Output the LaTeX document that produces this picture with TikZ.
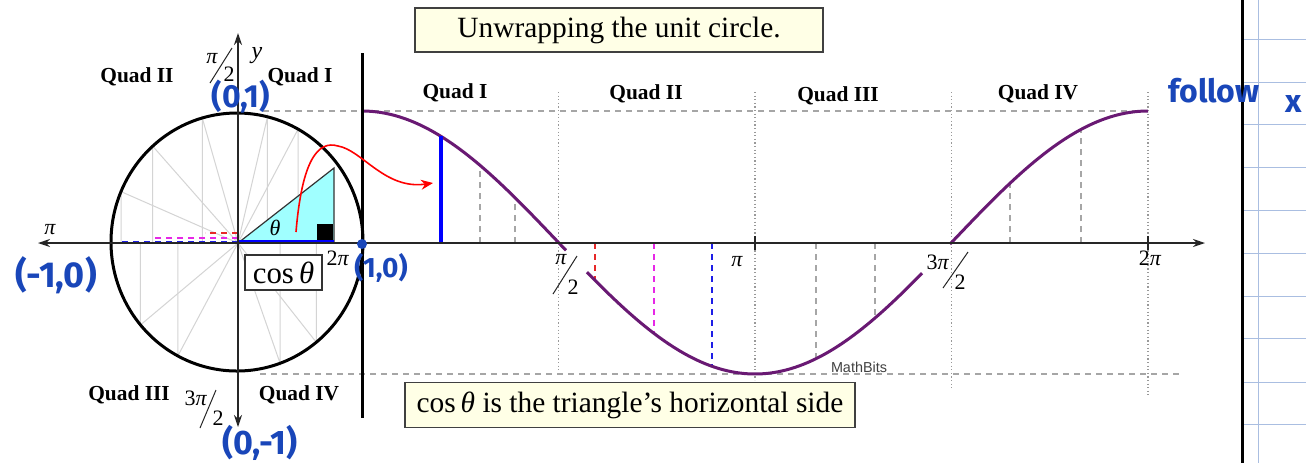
\documentclass[tikz,border=0pt]{standalone}
\usepackage{fontspec}
\setmainfont{Liberation Serif}
\newfontfamily\handfont{Fira Sans}
\newfontfamily\mbsans{Liberation Sans}
\usetikzlibrary{arrows.meta}
\definecolor{curvepurple}{RGB}{105,25,115}
\definecolor{handblue}{RGB}{25,70,185}
\definecolor{boxyellow}{RGB}{255,255,230}
\definecolor{spokegray}{RGB}{212,212,212}
\definecolor{gridblue}{RGB}{170,190,225}
\definecolor{tricyan}{RGB}{160,255,255}
\definecolor{dashred}{RGB}{230,40,40}
\definecolor{dashmag}{RGB}{230,40,230}
\definecolor{dashblue}{RGB}{30,30,230}
\begin{document}
\begin{tikzpicture}[x=0.5pt,y=-0.5pt,
  quadlbl/.style={font=\fontsize{10.7}{12}\selectfont\bfseries, inner sep=0pt},
  smalllbl/.style={font=\fontsize{11}{12}\selectfont\itshape, inner sep=0pt},
  uplbl/.style={font=\fontsize{11}{12}\selectfont, inner sep=0pt},
  axisline/.style={line width=0.75pt, draw=black!85},
  spoke/.style={line width=0.5pt, draw=spokegray},
  guide/.style={line width=0.6pt, draw=gray!70, dash pattern=on 3pt off 2.5pt},
  dotguide/.style={line width=0.6pt, draw=gray!80, dash pattern=on 0.6pt off 1.2pt},
  cosline/.style={line width=1.5pt, draw=curvepurple},
  handwr/.style={font=\handfont\bfseries\fontsize{16}{18}\selectfont, text=handblue, inner sep=0pt},
  yellowbox/.style={draw=black!75, line width=0.8pt, fill=boxyellow, inner sep=0pt, font=\fontsize{14.7}{16}\selectfont},
  gridline/.style={line width=0.5pt, draw=gridblue},
  slash/.style={line width=0.5pt, draw=black!85},
]
\useasboundingbox (0,0) rectangle (1306,463);
\fill[white] (0,0) rectangle (1306,463);

% grid paper on the right
\foreach \gy in {39,82,124,167,210,253,296,338,382,424}
  \draw[gridline] (1244,\gy) -- (1306,\gy);
\draw[gridline] (1258,0) -- (1258,463);
\draw[line width=1.5pt, black] (1242,0) -- (1242,463);

% spokes in circle
\foreach \a in {61,76,106,132,157,220,242,290,309}
  \draw[spoke] (238,243) -- ({237+126*cos(\a)},{242-129*sin(\a)}) -- ({237+126*cos(\a)},243);

% triangle
\fill[tricyan] (238,243) -- (334,243) -- (334,168) -- cycle;
\draw[line width=0.6pt, black!80] (238,243) -- (334,168) -- (334,243);
\fill[black] (317,224) rectangle (333,241);

% guides
\draw[guide] (263,111) -- (362,111);
\draw[guide] (362,111) -- (1148,111);
\draw[guide] (260,374) -- (1180,374);
\foreach \xx/\yb in {558.5/370,755/380,951.5/388,1148/395}
  \draw[dotguide] (\xx,92) -- (\xx,\yb);
\foreach \xx in {480,515,816,875,1010,1081}
  \draw[guide] (\xx,243) -- (\xx,{242.5-131.5*cos((\xx-362)/786*360)});
\draw[guide, draw=dashred, line width=1pt] (595,243) -- (595,{242.5-131.5*cos((595-362)/786*360)});
\draw[guide, draw=dashmag, line width=1pt] (654,243) -- (654,{242.5-131.5*cos((654-362)/786*360)});
\draw[guide, draw=dashblue, line width=1pt] (712,243) -- (712,{242.5-131.5*cos((712-362)/786*360)});

% colored dashes on the circle's axis
\draw[guide, draw=dashred, line width=1pt] (238,233) -- (205,233);
\draw[guide, draw=dashmag, line width=1pt] (238,238) -- (153,238);
\draw[guide, draw=dashblue, line width=1pt] (238,242) -- (122,242);

% unit circle
\draw[line width=1.5pt, black] (237,242) ellipse [x radius=126, y radius=129];

% cosine curve
\draw[cosline] plot[domain=362:566, samples=60] (\x,{242.5-131.5*cos((\x-362)/786*360)});
\draw[cosline] plot[domain=587:922, samples=80] (\x,{242.5-131.5*cos((\x-362)/786*360)});
\draw[cosline] plot[domain=950:1148, samples=60] (\x,{242.5-131.5*cos((\x-362)/786*360)});

% blue cos segment
\draw[line width=2pt, blue] (441,243) -- (441,{242.5-131.5*cos((441-362)/786*360)});
\draw[line width=2.4pt, blue] (238,242) -- (334,242);

% axes
\draw[axisline, {Stealth[length=6pt,width=4pt]}-{Stealth[length=6pt,width=4pt]}] (38,243) -- (1205,243);
\draw[axisline, {Stealth[length=6pt,width=4pt]}-{Stealth[length=6pt,width=4pt]}] (238,427) -- (238,33);
\draw[axisline] (755,236) -- (755,250);
\draw[axisline] (1148,236) -- (1148,250);
\draw[line width=1.5pt, black] (362,53) -- (362,418);

% red arrow
\coordinate (arrstart) at (296,232);
\coordinate (arrpeak) at (338,146);
\coordinate (arrend) at (433,183);
\draw[line width=0.8pt, red, -{Stealth[length=6pt,width=5pt]}] (arrstart) .. controls (302,160) and (318,140) .. (arrpeak) .. controls (362,150) and (385,190) .. (arrend);

% boxes
\node[yellowbox, minimum width=204pt, minimum height=22pt] (title) at (619,30) {Unwrapping the unit circle.};
\node[yellowbox, minimum width=225pt, minimum height=22.5pt] (caption) at (630,405) {cos\,\textit{θ} is the triangle's horizontal side};
\node[draw=black!80, line width=0.6pt, fill=white, inner sep=0pt, minimum width=38.5pt, minimum height=17.5pt, font=\fontsize{15.4}{17}\selectfont] (cosbox) at (283.5,272.5) {cos\,\textit{θ}};

% quadrant labels
\node[quadlbl] (lq2) at (137,77) {Quad II};
\node[quadlbl] (lq1) at (300,77) {Quad I};
\node[quadlbl] (lq3) at (129,395) {Quad III};
\node[quadlbl] (lq4) at (299,395) {Quad IV};
\node[quadlbl] (gq1) at (455,93) {Quad I};
\node[quadlbl] (gq2) at (646,94) {Quad II};
\node[quadlbl] (gq3) at (838,96) {Quad III};
\node[quadlbl] (gq4) at (1038,94) {Quad IV};

% angle labels
\node[smalllbl] (theta) at (275,228) {θ};
\node[smalllbl, font=\fontsize{12}{13}\selectfont\itshape] (ylbl) at (257,56) {y};
\node[smalllbl] (pileft) at (50,230) {π};
\node[uplbl] (twopileft) at (338,258) {2\textit{π}};
% pi/2 top
\node[smalllbl] (tpnum) at (212,59) {π};
\draw[slash] (210,83) -- (232,48);
\node[uplbl] (tpden) at (229,74) {2};
% 3pi/2 bottom
\node[uplbl] (bpnum) at (196,398) {3\textit{π}};
\draw[slash] (200,428) -- (216,390);
\node[uplbl] (bpden) at (218,418) {2};
% graph pi/2
\node[smalllbl] (gpnum) at (561,260) {π};
\draw[slash] (553,294) -- (577,256);
\node[uplbl] (gpden) at (573,287) {2};
% graph pi
\node[smalllbl] (gpi) at (737,262) {π};
% graph 3pi/2
\node[uplbl] (g3num) at (938,262) {3\textit{π}};
\draw[slash] (943,288) -- (968,252);
\node[uplbl] (g3den) at (960,282) {2};
% graph 2pi
\node[uplbl] (g2pi) at (1150,258) {2\textit{π}};

% MathBits
\node[font=\mbsans\fontsize{7.2}{8}\selectfont, text=black!75, inner sep=0pt] (mathbits) at (859,367) {MathBits};

% handwritten annotations
\fill[handblue] (362,244) circle [radius=5];
\node[handwr] (h01) at (241,97) {(0,1)};
\node[handwr, font=\handfont\bfseries\fontsize{18}{20}\selectfont] (hm10) at (56,275) {(-1,0)};
\node[handwr, font=\handfont\bfseries\fontsize{14}{16}\selectfont] (h10) at (381,268) {(1,0)};
\node[handwr, font=\handfont\bfseries\fontsize{17}{19}\selectfont] (h0m1) at (260,443) {(0,-1)};
\node[handwr] (hfollow) at (1214,91) {follow};
\node[handwr] (hx) at (1294,104) {x};
\end{tikzpicture}
\end{document}
